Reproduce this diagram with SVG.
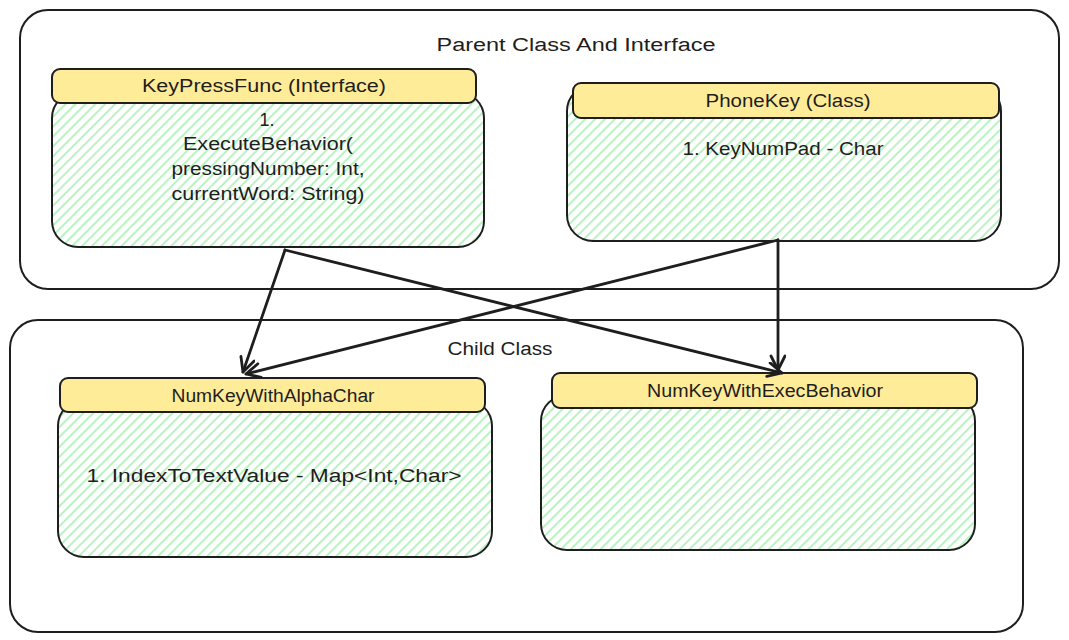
<svg xmlns="http://www.w3.org/2000/svg" width="1069" height="640" viewBox="0 0 1069 640">
<style>
.frame{fill:none;stroke:#1e1e1e;stroke-width:2}
.body{fill:url(#hatch);stroke:#1e1e1e;stroke-width:2}
.head{fill:#ffec99;stroke:#1e1e1e;stroke-width:2}
.t{font-family:"Liberation Sans",Arial,sans-serif;font-size:18px;fill:#1e1e1e;text-anchor:middle}
.conn{fill:none;stroke:#1e1e1e;stroke-width:2.8;stroke-linecap:round}
</style>
<defs>
<pattern id="hatch" patternUnits="userSpaceOnUse" width="7" height="7" patternTransform="rotate(45)">
<rect width="7" height="7" fill="#ffffff"/>
<line x1="1" y1="0" x2="1" y2="7" stroke="#b2f2bb" stroke-width="1.8"/>
</pattern>
<marker id="arr" markerUnits="userSpaceOnUse" markerWidth="20" markerHeight="20" refX="16" refY="8" orient="auto">
<path d="M2,1 L16,8 L2,15" fill="none" stroke="#1e1e1e" stroke-width="2.8" stroke-linecap="round" stroke-linejoin="round"/>
</marker>
</defs>
<rect width="1069" height="640" fill="#ffffff"/>

<g id="parent-container">
<rect class="frame" x="20" y="10" width="1039" height="279" rx="28"/>
<text class="t" x="576" y="51" textLength="279" lengthAdjust="spacingAndGlyphs">Parent Class And Interface</text>
</g>

<g id="child-container">
<rect class="frame" x="10" y="320" width="1013" height="312" rx="28"/>
<text class="t" x="500" y="355" textLength="105" lengthAdjust="spacingAndGlyphs">Child Class</text>
</g>

<g id="keypressfunc">
<rect class="body" x="52" y="92" width="432" height="155" rx="26"/>
<rect class="head" x="52" y="69" width="424" height="34" rx="8"/>
<text class="t" x="264" y="92" textLength="244" lengthAdjust="spacingAndGlyphs">KeyPressFunc (Interface)</text>
<text class="t" x="267" y="126">1.</text>
<text class="t" x="268" y="150" textLength="170" lengthAdjust="spacingAndGlyphs">ExecuteBehavior(</text>
<text class="t" x="268" y="175" textLength="193" lengthAdjust="spacingAndGlyphs">pressingNumber: Int,</text>
<text class="t" x="268" y="200" textLength="193" lengthAdjust="spacingAndGlyphs">currentWord: String)</text>
</g>

<g id="phonekey">
<rect class="body" x="567" y="85" width="434" height="156" rx="26"/>
<rect class="head" x="573" y="83" width="426" height="35" rx="8"/>
<text class="t" x="788" y="107" textLength="165" lengthAdjust="spacingAndGlyphs">PhoneKey (Class)</text>
<text class="t" x="783" y="155" textLength="201" lengthAdjust="spacingAndGlyphs">1. KeyNumPad - Char</text>
</g>

<g id="numkeywithalphachar">
<rect class="body" x="58" y="400" width="434" height="157" rx="26"/>
<rect class="head" x="60" y="378" width="425" height="34" rx="8"/>
<text class="t" x="273" y="402" textLength="203" lengthAdjust="spacingAndGlyphs">NumKeyWithAlphaChar</text>
<text class="t" x="274" y="482" textLength="375" lengthAdjust="spacingAndGlyphs">1. IndexToTextValue - Map&lt;Int,Char&gt;</text>
</g>

<g id="numkeywithexecbehavior">
<rect class="body" x="541" y="395" width="434" height="155" rx="26"/>
<rect class="head" x="552" y="373" width="425" height="35" rx="8"/>
<text class="t" x="765" y="397" textLength="236" lengthAdjust="spacingAndGlyphs">NumKeyWithExecBehavior</text>
</g>

<g id="connectors">
<line class="conn" x1="285" y1="250" x2="243" y2="372" marker-end="url(#arr)"/>
<line class="conn" x1="285" y1="250" x2="782" y2="373" marker-end="url(#arr)"/>
<line class="conn" x1="778" y1="240" x2="246" y2="374" marker-end="url(#arr)"/>
<line class="conn" x1="778" y1="240" x2="778" y2="370" marker-end="url(#arr)"/>
</g>
</svg>
